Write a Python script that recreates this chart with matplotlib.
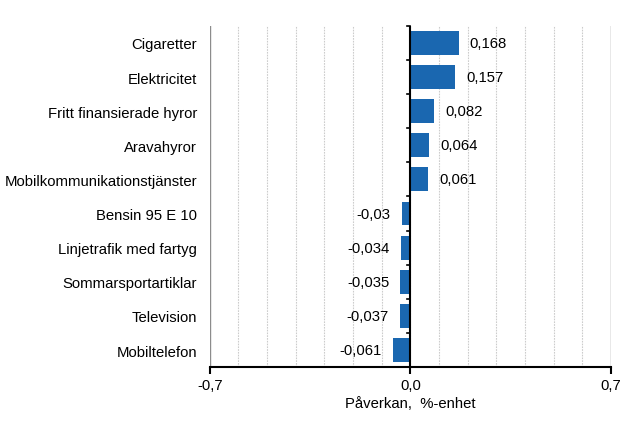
import matplotlib
matplotlib.use("Agg")
import matplotlib.pyplot as plt
import numpy as np

categories = ["Cigaretter", "Elektricitet", "Fritt finansierade hyror", "Aravahyror",
              "Mobilkommunikationstjänster", "Bensin 95 E 10", "Linjetrafik med fartyg",
              "Sommarsportartiklar", "Television", "Mobiltelefon"]
values = [0.168, 0.157, 0.082, 0.064, 0.061, -0.03, -0.034, -0.035, -0.037, -0.061]
value_labels = ["0,168", "0,157", "0,082", "0,064", "0,061", "-0,03", "-0,034", "-0,035", "-0,037", "-0,061"]
xticks = [-0.7, 0.0, 0.7]
xtick_labels = ["-0,7", "0,0", "0,7"]

plt.rcParams['font.family'] = ['Liberation Sans', 'DejaVu Sans']
fig = plt.figure(figsize=(6.32, 4.27), dpi=100)
ax = fig.add_axes([0.332, 0.138, 0.635, 0.799])

fs = 10.7
n = len(categories)
y = np.arange(n)
color = "#1A67B0"
ax.barh(y, values, height=0.7, color=color, zorder=3)
ax.set_ylim(n - 0.5, -0.5)
ax.set_xlim(-0.7, 0.7)

# gridlines
for gx in np.arange(-6, 7) / 10:
    ax.axvline(gx, color="#cccccc", lw=0.8, ls=(0, (1.5, 1)), zorder=1)
for gx in [-0.7, 0.7]:
    ax.axvline(gx, color="#8c8c8c", lw=1.0, zorder=1)

# zero axis
ax.axvline(0, color="black", lw=1.5, zorder=4)
for b in np.arange(n + 1) - 0.5:
    ax.plot([-0.011, 0], [b, b], color="black", lw=1.2, zorder=4, clip_on=False)

for s in ["top", "right", "left"]:
    ax.spines[s].set_visible(False)
ax.spines["bottom"].set_linewidth(1.5)
ax.spines["bottom"].set_zorder(5)

ax.set_xticks(xticks)
ax.set_xticklabels(xtick_labels, fontsize=fs)
ax.tick_params(axis="x", direction="out", length=5, width=1.5, pad=3)
ax.set_yticks(y)
ax.set_yticklabels(categories, fontsize=fs)
ax.tick_params(axis="y", length=0, pad=9)
ax.set_xlabel("Påverkan,  %-enhet", fontsize=fs, labelpad=3)

for yi, v, lab in zip(y, values, value_labels):
    if v >= 0:
        ax.annotate(lab, (v, yi), xytext=(8, 0), textcoords="offset points",
                    ha="left", va="center", fontsize=fs, zorder=6)
    else:
        ax.annotate(lab, (v, yi), xytext=(-8, 0), textcoords="offset points",
                    ha="right", va="center", fontsize=fs, zorder=6)

fig.savefig("out.png", dpi=100)
